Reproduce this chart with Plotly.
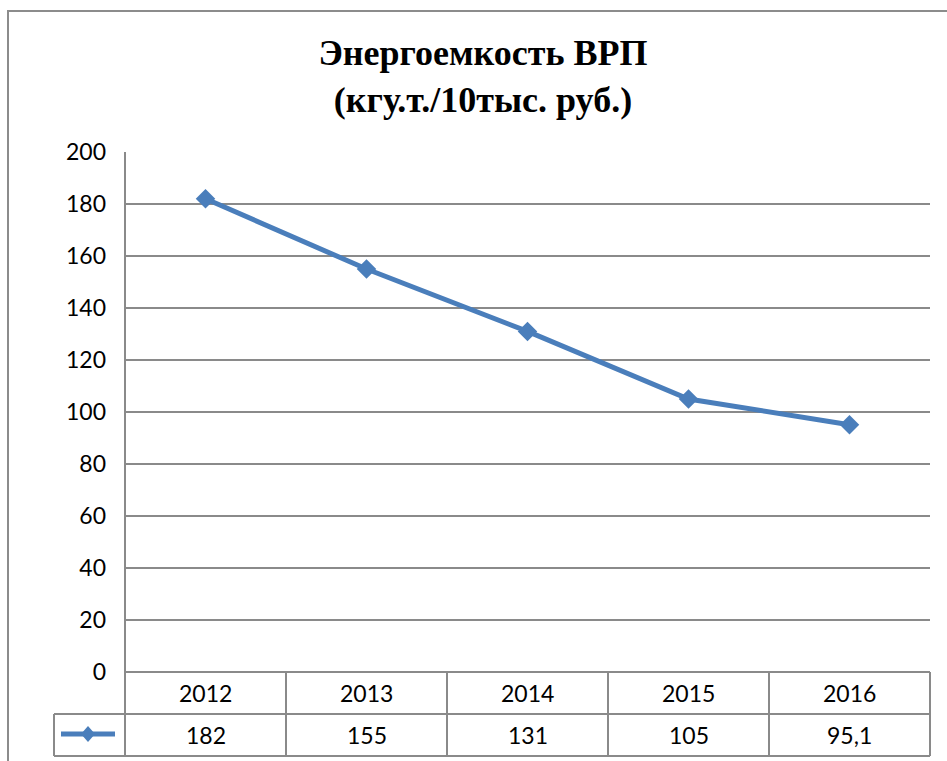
import plotly.graph_objects as go

years = ["2012", "2013", "2014", "2015", "2016"]
values = [182, 155, 131, 105, 95.1]
value_labels = ["182", "155", "131", "105", "95,1"]
y_ticks = [0, 20, 40, 60, 80, 100, 120, 140, 160, 180, 200]
title_text = "Энергоемкость ВРП<br>(кгу.т./10тыс. руб.)"

W, H = 947, 761
L, R, T, B = 125, 930, 152, 672  # plot area in px
pw, ph = R - L, B - T

def px_x(p):
    return (p - L) / pw

def px_y(p):
    return (B - p) / ph

LINE_COLOR = "#4a7ebb"
GRID = "#8a8a8a"
TICKFONT = dict(family="Lato, Carlito, Liberation Sans", size=23, color="#000000")

fig = go.Figure()
fig.add_trace(go.Scatter(
    x=years, y=values, mode="lines+markers",
    line=dict(color=LINE_COLOR, width=5),
    marker=dict(symbol="diamond", size=15, color=LINE_COLOR),
    showlegend=False, cliponaxis=False,
))

shapes = []
def hline(x0, x1, y0, width=2):
    shapes.append(dict(type="line", xref="paper", yref="paper", x0=x0, x1=x1, y0=y0, y1=y0,
                       line=dict(color=GRID, width=width)))
def vline(x0, y0, y1, width=2):
    shapes.append(dict(type="line", xref="paper", yref="paper", x0=x0, x1=x0, y0=y0, y1=y1,
                       line=dict(color=GRID, width=width)))

row1 = px_y(714)
row2 = px_y(756)
n = len(years)
hline(0, 1, 0)
hline(px_x(54), 1, row1)
hline(px_x(54), 1, row2)
vline(0, 1, row2)
for k in range(1, n + 1):
    vline(k / n, 0, row2)
vline(px_x(54), row1, row2)
# outer chart border
shapes.append(dict(type="rect", xref="paper", yref="paper",
                   x0=px_x(8), x1=px_x(990), y0=px_y(11), y1=px_y(800),
                   line=dict(color="#8c8c8c", width=2), layer="below"))
# legend key line
ky = px_y(734)
shapes.append(dict(type="line", xref="paper", yref="paper", x0=px_x(61), x1=px_x(115), y0=ky, y1=ky,
                   line=dict(color=LINE_COLOR, width=5)))
cx, cy, hw, hh = 88, 734, 7, 8
shapes.append(dict(type="path", xref="paper", yref="paper",
                   path=f"M {px_x(cx-hw)} {px_y(cy)} L {px_x(cx)} {px_y(cy-hh)} L {px_x(cx+hw)} {px_y(cy)} L {px_x(cx)} {px_y(cy+hh)} Z",
                   fillcolor=LINE_COLOR, line=dict(color=LINE_COLOR, width=0)))

annotations = []
for i, (yr, lab) in enumerate(zip(years, value_labels)):
    annotations.append(dict(x=i, xref="x", y=px_y(693), yref="paper", text=yr, showarrow=False,
                            font=TICKFONT, xanchor="center", yanchor="middle"))
    annotations.append(dict(x=i, xref="x", y=px_y(735), yref="paper", text=lab, showarrow=False,
                            font=TICKFONT, xanchor="center", yanchor="middle"))

fig.update_layout(
    width=W, height=H,
    margin=dict(l=L, r=W - R, t=T, b=H - B, pad=0),
    paper_bgcolor="white", plot_bgcolor="white",
    title=dict(text=title_text, x=483 / W, xref="container", xanchor="center",
               y=1 - 65 / H, yanchor="middle",
               font=dict(family="Liberation Serif, Times New Roman", size=36, color="#000000", weight="bold")),
    xaxis=dict(type="category", range=[-0.5, 4.5], showticklabels=False, showgrid=False,
               zeroline=False, showline=False, ticks=""),
    yaxis=dict(range=[0, 200], tickvals=y_ticks, showgrid=True, gridcolor=GRID, gridwidth=2,
               zeroline=False, showline=False, ticks="", tickfont=TICKFONT, ticklabelstandoff=18),
    shapes=shapes, annotations=annotations, showlegend=False,
)

fig.write_html("out.html", config={"displayModeBar": False},
               post_script="document.body.style.margin='0';document.body.style.overflow='hidden';")
